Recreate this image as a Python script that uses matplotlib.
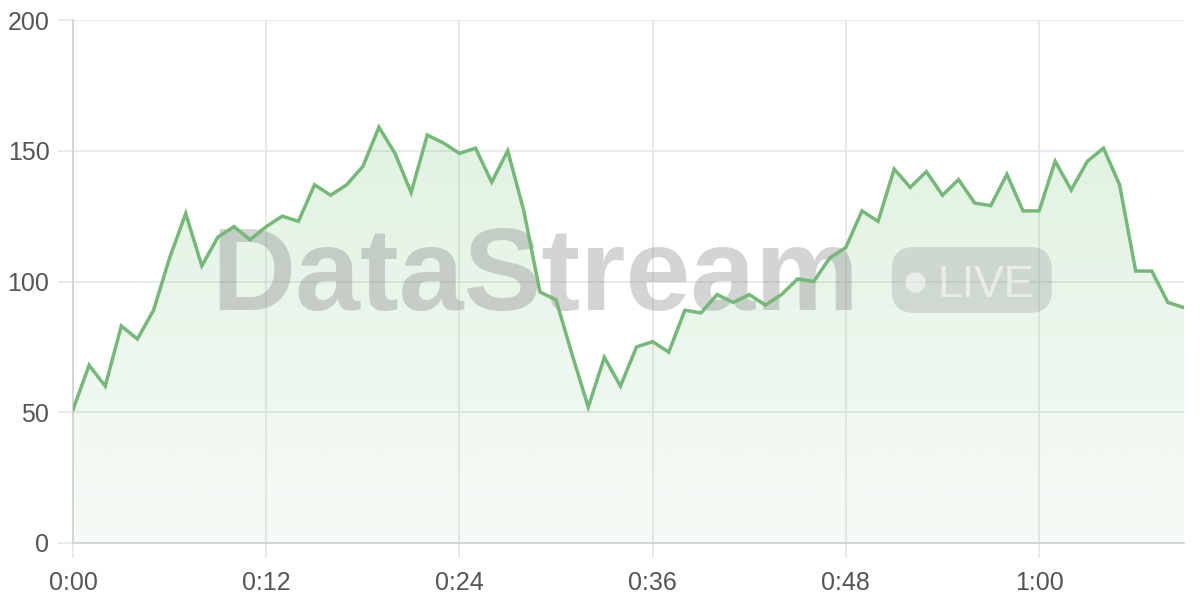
import numpy as np
import matplotlib
matplotlib.use("Agg")
import matplotlib.pyplot as plt
from matplotlib.patches import FancyBboxPatch
from matplotlib.colors import to_rgb

# -----------------------------
# DATA (one reading per minute)
# -----------------------------
minutes = list(range(70))
values = [51, 68, 60, 83, 78, 89, 109, 126, 106, 117,
          121, 116, 121, 125, 123, 137, 133, 137, 144, 159,
          149, 134, 156, 153, 149, 151, 138, 150, 127, 96,
          93, 72, 52, 71, 60, 75, 77, 73, 89, 88,
          95, 92, 95, 91, 95, 101, 100, 109, 113, 127,
          123, 143, 136, 142, 133, 139, 130, 129, 141, 127,
          127, 146, 135, 146, 151, 137, 104, 104, 92, 90]
x_ticks = [0, 12, 24, 36, 48, 60]
x_labels = ["0:00", "0:12", "0:24", "0:36", "0:48", "1:00"]
y_ticks = [0, 50, 100, 150, 200]

line_color = "#74b977"
fill_color = "#4caf50"
grid_color = "#e6e6e6"
text_color = "#555555"

plt.rcParams['font.family'] = ['Liberation Sans', 'DejaVu Sans']

fig = plt.figure(figsize=(12, 6), dpi=100)
ax = fig.add_axes([73 / 1200, 57 / 600, 1111 / 1200, 523 / 600])
ax.set_xlim(0, 69)
ax.set_ylim(0, 200)

# gradient fill under the line
rgb = to_rgb(fill_color)
grad = np.zeros((256, 1, 4))
grad[:, 0, :3] = rgb
grad[:, 0, 3] = np.linspace(0.2, 0.05, 256)
poly = ax.fill_between(minutes, values, 0, color="none", lw=0)
img = ax.imshow(grad, extent=[0, 69, 0, 200], aspect="auto", origin="upper", zorder=1)
img.set_clip_path(poly.get_paths()[0], transform=ax.transData)

ax.plot(minutes, values, color=line_color, lw=2.5, zorder=4, solid_joinstyle="miter")

# watermark
ax.text(0.124, 0.4455, "DataStream", transform=ax.transAxes, ha="left", va="baseline",
        fontsize=84, fontweight="bold", color="#888888", alpha=0.36, zorder=3)
pill = FancyBboxPatch((0.737, 0.44), 0.144, 0.126, transform=ax.transAxes,
                      boxstyle="round,pad=0,rounding_size=0.02", mutation_aspect=1111 / 523,
                      facecolor="#888888", alpha=0.25, edgecolor="none", zorder=3)
ax.add_patch(pill)
ax.plot([0.758], [0.499], transform=ax.transAxes, marker="o", ms=14.5, color="white",
        alpha=0.55, mew=0, zorder=3)
ax.text(0.778, 0.470, "LIVE", transform=ax.transAxes, ha="left", va="baseline",
        fontsize=32, color="white", alpha=0.55, zorder=3)

# axes styling
ax.set_xticks(x_ticks)
ax.set_xticklabels(x_labels)
ax.set_yticks(y_ticks)
ax.grid(True, color=grid_color, lw=1.2, zorder=0)
ax.set_axisbelow(True)
for s in ["top", "right"]:
    ax.spines[s].set_visible(False)
for s in ["left", "bottom"]:
    ax.spines[s].set_color("#d0d0d0")
    ax.spines[s].set_linewidth(1.2)
ax.tick_params(axis="both", length=11, width=1.2, color=grid_color,
               labelsize=18, labelcolor=text_color)
ax.tick_params(axis="x", pad=9)
ax.tick_params(axis="y", pad=6)

fig.savefig("out.png", dpi=100, facecolor="white")
